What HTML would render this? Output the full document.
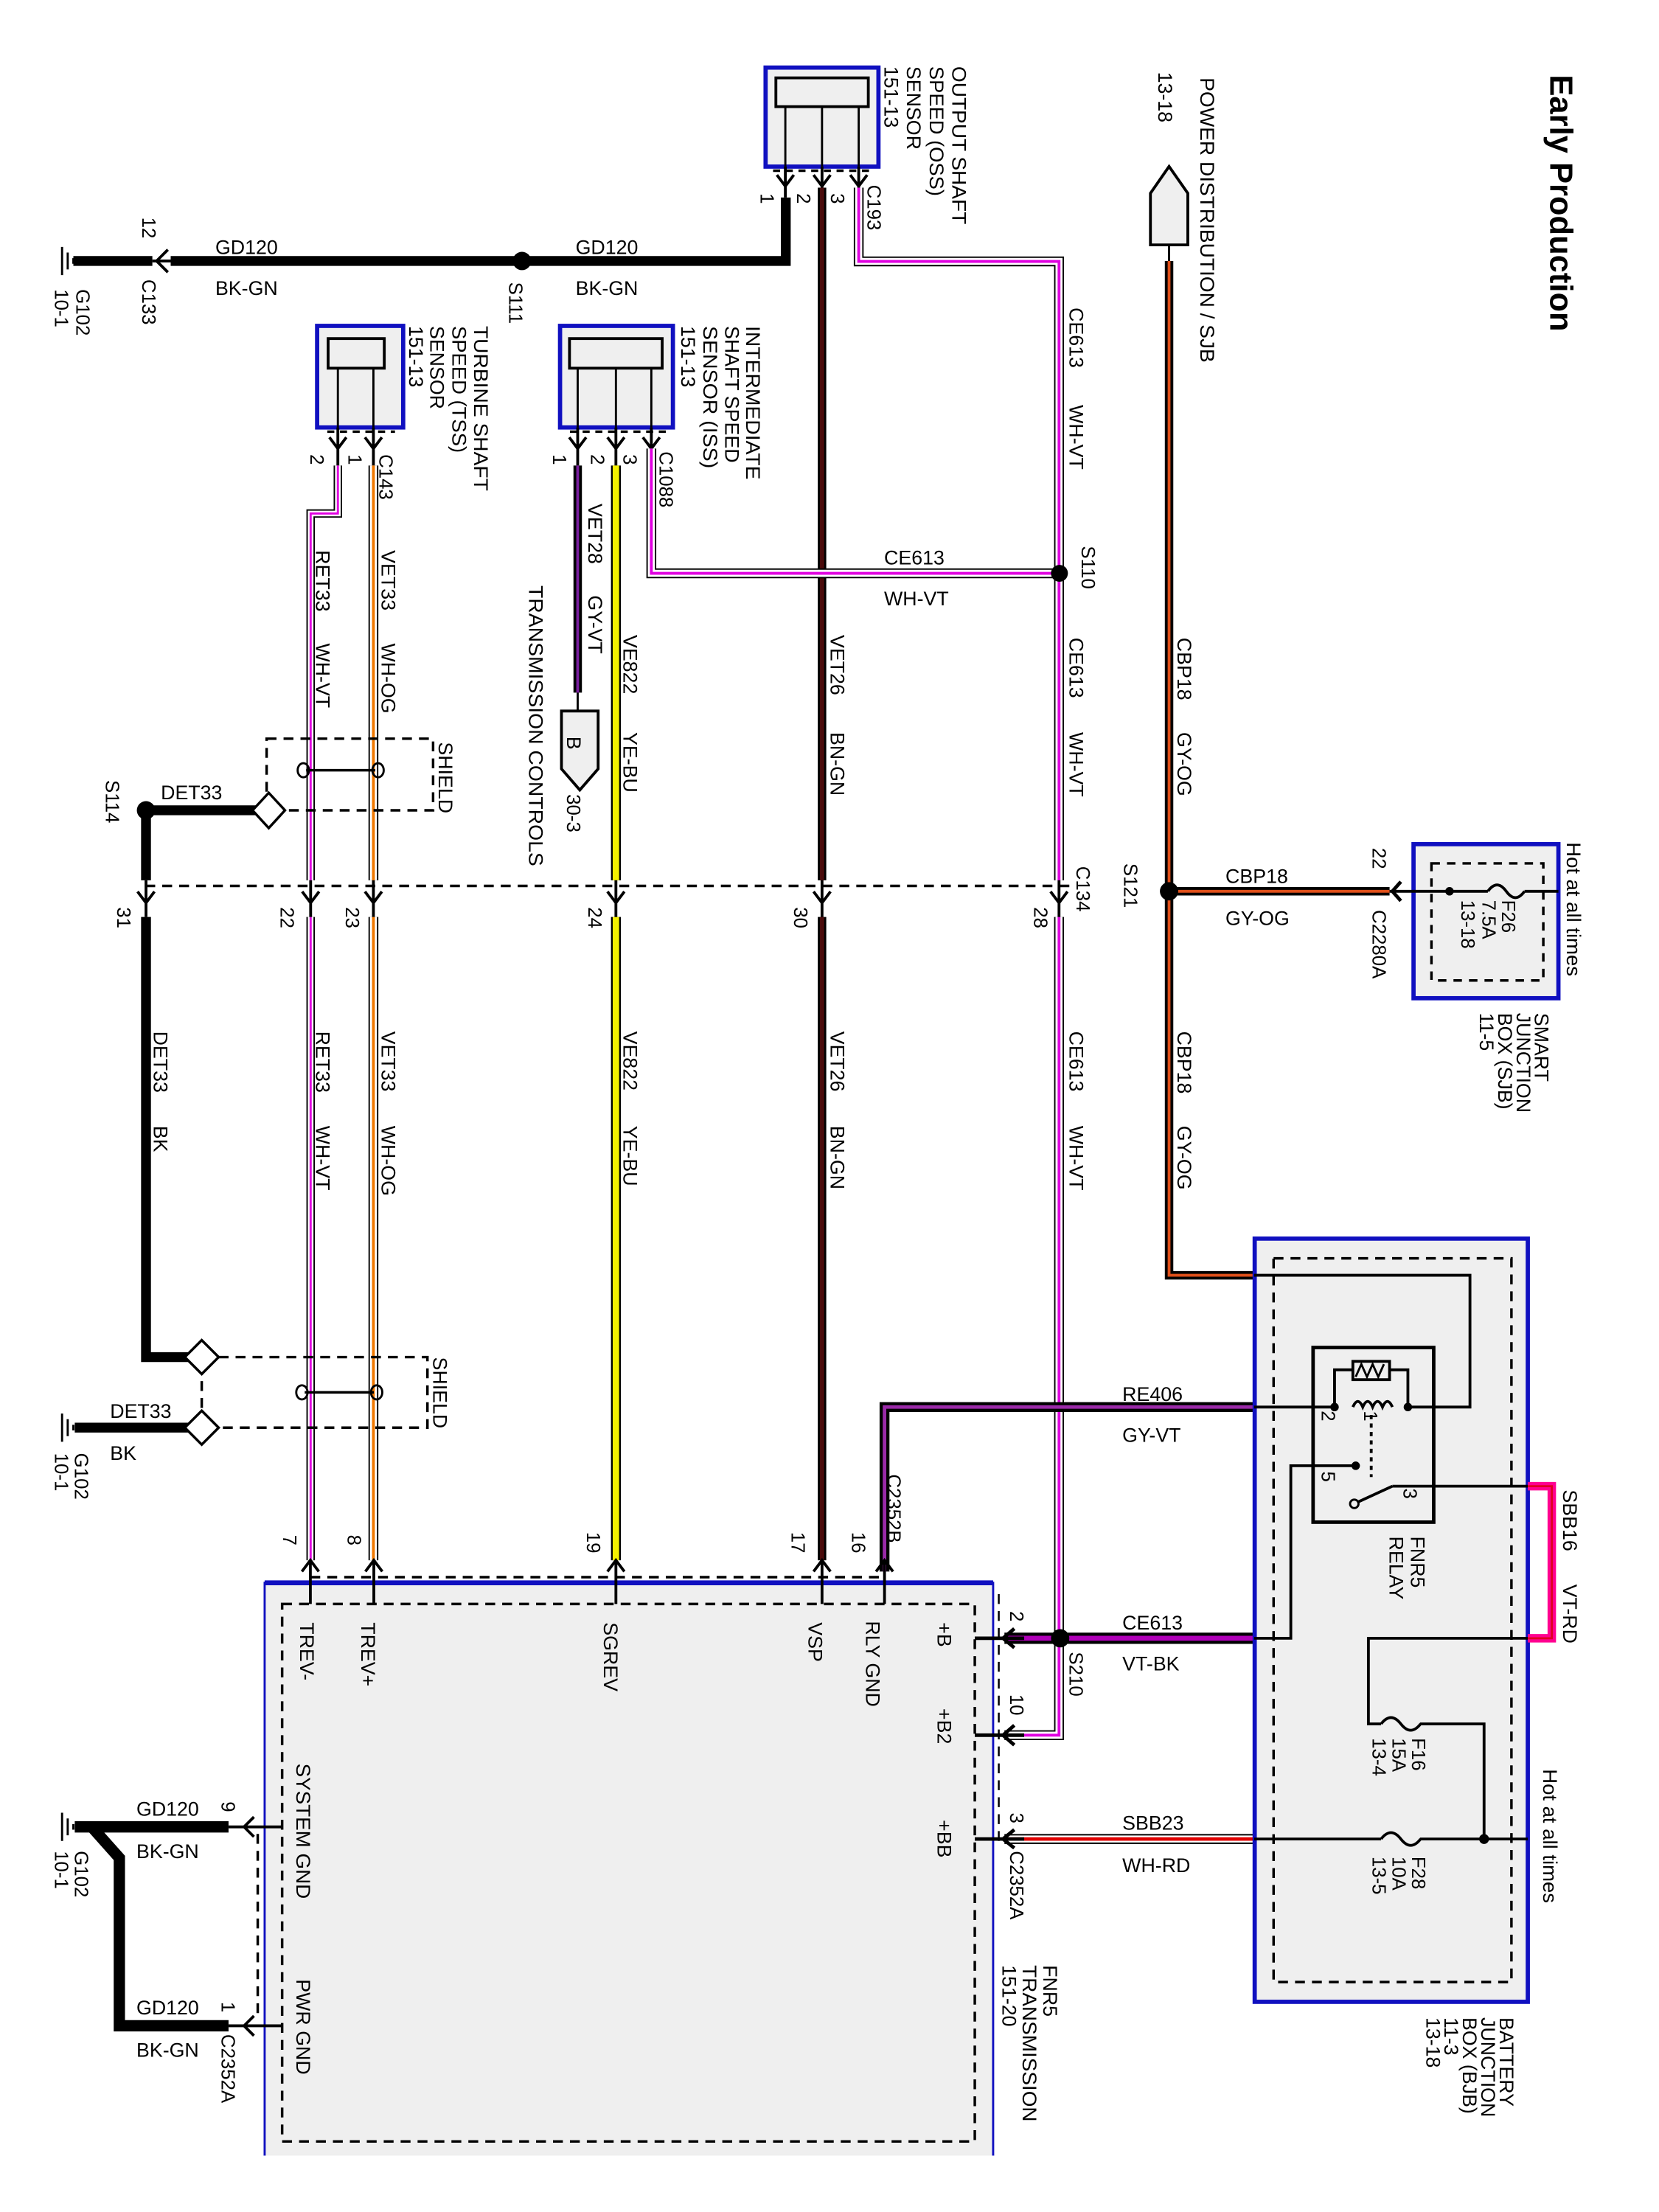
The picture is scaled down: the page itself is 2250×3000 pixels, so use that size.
<!DOCTYPE html>
<html><head><meta charset="utf-8">
<style>
html,body{margin:0;padding:0;background:#fff}
svg{display:block}
.t{font-family:"Liberation Sans",Arial,sans-serif;font-size:14px;fill:#000}
.s{font-family:"Liberation Sans",Arial,sans-serif;font-size:13.5px;fill:#000}
.n{fill:none;stroke:#000;stroke-width:2}
.d{fill:none;stroke:#000;stroke-width:1.8;stroke-dasharray:7 5}
</style></head>
<body>
<svg width="2250" height="3000" viewBox="0 0 1176 1568" preserveAspectRatio="none" xmlns="http://www.w3.org/2000/svg">
<rect x="0" y="0" width="1176" height="1568" fill="#fff"/>

<!-- Title -->
<text class="t" style="font-size:23px;font-weight:bold" transform="translate(1099,53) rotate(90)" textLength="182" lengthAdjust="spacingAndGlyphs">Early Production</text>

<!-- ===== OSS sensor ===== -->
<rect x="542.7" y="47.9" width="80" height="70.2" fill="#efefef" stroke="#1010c0" stroke-width="3"/>
<rect x="550" y="55.2" width="65.5" height="20.4" fill="#efefef" stroke="#000" stroke-width="2"/>
<path class="n" d="M556.7 75.6V118M582.7 75.6V118M608.7 75.6V118" style="stroke-width:1.5"/>
<path class="d" d="M548 121H620" style="stroke-dasharray:5 4"/>
<g class="n">
<path d="M556.7 118V140M550.7 124L556.7 132L562.7 124"/>
<path d="M582.7 118V140M576.7 124L582.7 132L588.7 124"/>
<path d="M608.7 118V140M602.7 124L608.7 132L614.7 124"/>
</g>
<text class="s" transform="translate(539,137) rotate(90)">1</text>
<text class="s" transform="translate(565,137) rotate(90)">2</text>
<text class="s" transform="translate(589,137) rotate(90)">3</text>
<text class="s" transform="translate(615,131) rotate(90)">C193</text>
<text class="t" transform="translate(675,47) rotate(90)" textLength="112" lengthAdjust="spacingAndGlyphs">OUTPUT SHAFT</text>
<text class="t" transform="translate(659,47) rotate(90)" textLength="92" lengthAdjust="spacingAndGlyphs">SPEED (OSS)</text>
<text class="t" transform="translate(643,47) rotate(90)">SENSOR</text>
<text class="t" transform="translate(627,47) rotate(90)">151-13</text>

<!-- ===== TSS sensor ===== -->
<rect x="224.8" y="231" width="61" height="72" fill="#efefef" stroke="#1010c0" stroke-width="3"/>
<rect x="232.6" y="240" width="39.8" height="21" fill="#efefef" stroke="#000" stroke-width="2"/>
<path class="n" d="M239.5 261V303M264.7 261V303" style="stroke-width:1.5"/>
<path class="d" d="M232 306H280" style="stroke-dasharray:5 4"/>
<g class="n">
<path d="M239.5 303V330M233.5 310L239.5 318L245.5 310"/>
<path d="M264.7 303V330M258.7 310L264.7 318L270.7 310"/>
</g>
<text class="s" transform="translate(220,322) rotate(90)">2</text>
<text class="s" transform="translate(247,322) rotate(90)">1</text>
<text class="s" transform="translate(269,322) rotate(90)">C143</text>
<text class="t" transform="translate(336,231) rotate(90)" textLength="117" lengthAdjust="spacingAndGlyphs">TURBINE SHAFT</text>
<text class="t" transform="translate(320.7,231) rotate(90)" textLength="90" lengthAdjust="spacingAndGlyphs">SPEED (TSS)</text>
<text class="t" transform="translate(305,231) rotate(90)">SENSOR</text>
<text class="t" transform="translate(290,231) rotate(90)">151-13</text>

<!-- ===== ISS sensor ===== -->
<rect x="397" y="231" width="80" height="72" fill="#efefef" stroke="#1010c0" stroke-width="3"/>
<rect x="403.7" y="240" width="65.7" height="21" fill="#efefef" stroke="#000" stroke-width="2"/>
<path class="n" d="M409.5 261V303M436.6 261V303M461.7 261V303" style="stroke-width:1.5"/>
<path class="d" d="M404 306H472" style="stroke-dasharray:5 4"/>
<g class="n">
<path d="M409.5 303V330M403.5 310L409.5 318L415.5 310"/>
<path d="M436.6 303V330M430.6 310L436.6 318L442.6 310"/>
<path d="M461.7 303V330M455.7 310L461.7 318L467.7 310"/>
</g>
<text class="s" transform="translate(392,322) rotate(90)">1</text>
<text class="s" transform="translate(419,322) rotate(90)">2</text>
<text class="s" transform="translate(442,322) rotate(90)">3</text>
<text class="s" transform="translate(467.5,320) rotate(90)">C1088</text>
<text class="t" transform="translate(529,231) rotate(90)" textLength="109" lengthAdjust="spacingAndGlyphs">INTERMEDIATE</text>
<text class="t" transform="translate(514,231) rotate(90)" textLength="97" lengthAdjust="spacingAndGlyphs">SHAFT SPEED</text>
<text class="t" transform="translate(498.5,231) rotate(90)" textLength="101" lengthAdjust="spacingAndGlyphs">SENSOR (ISS)</text>
<text class="t" transform="translate(483,231) rotate(90)">151-13</text>

<!-- ===== Wires ===== -->
<!-- GD120 top -->
<path d="M52 185H108M121 185H557V140" fill="none" stroke="#000" stroke-width="7"/>
<path class="n" d="M108 185H121M119 177L111 185L119 193"/>
<path class="n" d="M44 175V195M48 179V191M52 183V187" style="stroke-width:1.5"/>
<circle cx="370" cy="185" r="6.5" fill="#000"/>

<!-- VET26 -->
<path d="M582.7 133V624M582.7 650V1106" fill="none" stroke="#000" stroke-width="6"/>
<path d="M582.7 133V624M582.7 650V1106" fill="none" stroke="#4a0b0b" stroke-width="3"/>

<!-- CE613 WH-VT -->
<g fill="none">
<path d="M608.7 133V185.3H750.7V624M750.7 650V1230H712M750.7 406.4H461.7V318" stroke="#000" stroke-width="7"/>
<path d="M608.7 133V185.3H750.7V624M750.7 650V1230H712M750.7 406.4H461.7V318" stroke="#fff" stroke-width="5"/>
<path d="M608.7 133V185.3H750.7V624M750.7 650V1230H712M750.7 406.4H461.7V318" stroke="#e000e0" stroke-width="2"/>
</g>
<circle cx="751" cy="406.4" r="6" fill="#000"/>

<!-- CE613 VT-BK -->
<path d="M712 1161.3H889" fill="none" stroke="#000" stroke-width="8"/>
<path d="M712 1161.3H889" fill="none" stroke="#b000b8" stroke-width="3.5"/>
<circle cx="751.5" cy="1161.3" r="6.5" fill="#000"/>

<!-- RE406 GY-VT -->
<path d="M627 1114V997.4H889" fill="none" stroke="#000" stroke-width="7"/>
<path d="M627 1114V997.4H889" fill="none" stroke="#9a2aa8" stroke-width="2.5"/>

<!-- SBB23 WH-RD -->
<path d="M712 1303.6H889" fill="none" stroke="#000" stroke-width="7"/>
<path d="M712 1303.6H889" fill="none" stroke="#fff" stroke-width="5"/>
<path d="M712 1303.6H889" fill="none" stroke="#e00000" stroke-width="2.5"/>

<!-- CBP18 GY-OG -->
<path class="n" d="M828.7 173.6V186" style="stroke-width:1.5"/>
<path d="M828.7 185V904H889M828.7 631.8H985" fill="none" stroke="#000" stroke-width="6"/>
<path d="M828.7 185V904H889M828.7 631.8H985" fill="none" stroke="#e0501a" stroke-width="2"/>
<circle cx="828.7" cy="631.8" r="6.5" fill="#000"/>

<!-- VET28 GY-VT -->
<path d="M409.5 330V491" fill="none" stroke="#000" stroke-width="6"/>
<path d="M409.5 330V491" fill="none" stroke="#7a1fa0" stroke-width="2"/>
<path class="n" d="M409.5 491V504" style="stroke-width:1.5"/>
<polygon points="398,504 424,504 424,545 411,560 398,545" fill="#efefef" stroke="#000" stroke-width="2"/>

<!-- VE822 YE-BU -->
<path d="M436.6 330V624M436.6 650V1106" fill="none" stroke="#000" stroke-width="7"/>
<path d="M436.6 330V624M436.6 650V1106" fill="none" stroke="#f4f000" stroke-width="4.5"/>

<!-- RET33 WH-VT -->
<path d="M239.5 330V364H220.2V624M220.2 650V1106" fill="none" stroke="#000" stroke-width="6"/>
<path d="M239.5 330V364H220.2V624M220.2 650V1106" fill="none" stroke="#fff" stroke-width="4"/>
<path d="M239.5 330V364H220.2V624M220.2 650V1106" fill="none" stroke="#e000e0" stroke-width="1.5"/>

<!-- VET33 WH-OG -->
<path d="M264.7 330V624M264.7 650V1106" fill="none" stroke="#000" stroke-width="7"/>
<path d="M264.7 330V624M264.7 650V1106" fill="none" stroke="#fff" stroke-width="5"/>
<path d="M264.7 330V624M264.7 650V1106" fill="none" stroke="#f07800" stroke-width="2"/>

<!-- DET33 -->
<path d="M190 574.4H103.5V624M103.5 650V962H143" fill="none" stroke="#000" stroke-width="7"/>
<circle cx="103.5" cy="574.4" r="6.5" fill="#000"/>
<path d="M53 1012H143" fill="none" stroke="#000" stroke-width="7"/>
<path class="n" d="M44 1002V1022M48 1006V1018M52 1010V1014" style="stroke-width:1.5"/>

<!-- Shield 1 -->
<rect x="189" y="523.6" width="118" height="50.8" class="d"/>
<polygon points="190.5,562 202,574.4 190.5,587 179,574.4" fill="#fff" stroke="#000" stroke-width="1.8"/>
<ellipse cx="215" cy="546" rx="4" ry="5" fill="none" stroke="#000" stroke-width="1.5"/>
<ellipse cx="268" cy="546" rx="4" ry="5" fill="none" stroke="#000" stroke-width="1.5"/>
<path d="M217 546L266 546" stroke="#000" stroke-width="1.8"/>
<text class="t" transform="translate(311,526) rotate(90)">SHIELD</text>

<!-- Shield 2 -->
<rect x="143" y="962" width="160" height="50" class="d"/>
<polygon points="143,950 155,962 143,974 131,962" fill="#fff" stroke="#000" stroke-width="1.8"/>
<polygon points="143,1000 155,1012 143,1024 131,1012" fill="#fff" stroke="#000" stroke-width="1.8"/>
<ellipse cx="214" cy="987" rx="4" ry="5" fill="none" stroke="#000" stroke-width="1.5"/>
<ellipse cx="267" cy="987" rx="4" ry="5" fill="none" stroke="#000" stroke-width="1.5"/>
<path d="M216 987L265 987" stroke="#000" stroke-width="1.8"/>
<text class="t" transform="translate(307,962) rotate(90)">SHIELD</text>

<!-- C134 inline connector -->
<path class="d" d="M103 628H760"/>
<g class="n">
<path d="M103.5 624V650M97.5 632L103.5 640L109.5 632"/>
<path d="M220.2 624V650M214.2 632L220.2 640L226.2 632"/>
<path d="M264.7 624V650M258.7 632L264.7 640L270.7 632"/>
<path d="M436.6 624V650M430.6 632L436.6 640L442.6 632"/>
<path d="M582.7 624V650M576.7 632L582.7 640L588.7 632"/>
<path d="M750.7 624V650M744.7 632L750.7 640L756.7 632"/>
</g>
<text class="s" transform="translate(83,643) rotate(90)">31</text>
<text class="s" transform="translate(199,643) rotate(90)">22</text>
<text class="s" transform="translate(245,643) rotate(90)">23</text>
<text class="s" transform="translate(417,643) rotate(90)">24</text>
<text class="s" transform="translate(563,643) rotate(90)">30</text>
<text class="s" transform="translate(733,643) rotate(90)">28</text>
<text class="s" transform="translate(763,614) rotate(90)">C134</text>

<!-- Power distribution -->
<polygon points="815.5,137 828.7,118 842,137 842,173.6 815.5,173.6" fill="#efefef" stroke="#000" stroke-width="2"/>
<text class="t" transform="translate(851,55) rotate(90)" textLength="202" lengthAdjust="spacingAndGlyphs">POWER DISTRIBUTION / SJB</text>
<text class="t" transform="translate(821,51) rotate(90)">13-18</text>

<!-- SJB -->
<rect x="1002" y="598.4" width="102.7" height="109.2" fill="#efefef" stroke="#1010c0" stroke-width="3"/>
<rect x="1014.7" y="612" width="79.3" height="83" class="d" style="stroke-dasharray:6 5"/>
<path class="n" d="M985 631.8H1054.7M1080.7 631.8H1104.7"/>
<path class="n" d="M1054.7 631.8q6.5 -9 13 0q6.5 9 13 0"/>
<circle cx="1027.5" cy="631.8" r="3" fill="#000"/>
<path class="n" d="M993 625L987 631.8L993 638.6" style="stroke-width:2.5"/>
<text class="s" transform="translate(1064.7,638) rotate(90)">F26</text>
<text class="s" transform="translate(1050.7,638) rotate(90)">7.5A</text>
<text class="s" transform="translate(1036,638) rotate(90)">13-18</text>
<text class="t" transform="translate(1110.7,597) rotate(90)" textLength="95" lengthAdjust="spacingAndGlyphs">Hot at all times</text>
<text class="s" transform="translate(973,601) rotate(90)">22</text>
<text class="s" transform="translate(973,645) rotate(90)">C2280A</text>
<text class="t" transform="translate(1088,718) rotate(90)">SMART</text>
<text class="t" transform="translate(1075,718) rotate(90)">JUNCTION</text>
<text class="t" transform="translate(1062,718) rotate(90)">BOX (SJB)</text>
<text class="t" transform="translate(1049,718) rotate(90)">11-5</text>

<!-- ===== BJB ===== -->
<rect x="889.4" y="878" width="193.6" height="541" fill="#efefef" stroke="#1010c0" stroke-width="3"/>
<rect x="902.8" y="892" width="168.6" height="513" class="d"/>
<rect x="930.8" y="955.2" width="85.5" height="123.8" fill="none" stroke="#000" stroke-width="2.5"/>
<rect x="959" y="965" width="26" height="13" fill="none" stroke="#000" stroke-width="2"/>
<path class="n" d="M961 976L965 967L969 976L973 967L977 976L981 967" style="stroke-width:1.5"/>
<path class="n" d="M946 997.4V971H959M985 971H998V997.4"/>
<path class="n" d="M959 997.4q3.5 -8 7 0q3.5 -8 7 0q3.5 -8 7 0q3.5 -8 7 0"/>
<path class="n" d="M972 1003V1047" style="stroke-dasharray:3 3"/>
<circle cx="946" cy="997.4" r="3" fill="#000"/>
<circle cx="998" cy="997.4" r="3" fill="#000"/>
<circle cx="961" cy="1039" r="3" fill="#000"/>
<circle cx="960" cy="1066" r="3" fill="none" stroke="#000" stroke-width="1.5"/>
<path class="n" d="M889 904H1042V997.4H998"/>
<path class="n" d="M889 997.4H946"/>
<path class="n" d="M889 1161.3H915V1039H961"/>
<path class="n" d="M962 1065L987 1053.5M987 1053.5H1083"/>
<path class="n" d="M1083 1161.3H970V1222H979M1006.5 1222H1052V1303.6"/>
<path class="n" d="M979 1222q7 -9 14 0q7 9 14 0"/>
<path class="n" d="M889 1303.6H979M1006.5 1303.6H1083"/>
<path class="n" d="M979 1303.6q7 -9 14 0q7 9 14 0"/>
<circle cx="1052" cy="1303.6" r="3.5" fill="#000"/>
<path d="M1083 1053.5H1100V1161.3H1083" fill="none" stroke="#ff0090" stroke-width="6"/>
<path d="M1083 1053.5H1100V1161.3H1083" fill="none" stroke="#e00020" stroke-width="1.5"/>
<text class="s" transform="translate(967,1000) rotate(90)">1</text>
<text class="s" transform="translate(937,1000) rotate(90)">2</text>
<text class="s" transform="translate(937,1043) rotate(90)">5</text>
<text class="s" transform="translate(995,1055) rotate(90)">3</text>
<text class="t" transform="translate(1000,1089) rotate(90)">FNR5</text>
<text class="t" transform="translate(985,1089) rotate(90)">RELAY</text>
<text class="s" transform="translate(1001,1232) rotate(90)">F16</text>
<text class="s" transform="translate(987,1232) rotate(90)">15A</text>
<text class="s" transform="translate(973,1232) rotate(90)">13-4</text>
<text class="s" transform="translate(1001,1316) rotate(90)">F28</text>
<text class="s" transform="translate(987,1316) rotate(90)">10A</text>
<text class="s" transform="translate(973,1316) rotate(90)">13-5</text>
<text class="t" transform="translate(1094,1254) rotate(90)" textLength="95" lengthAdjust="spacingAndGlyphs">Hot at all times</text>
<text class="t" transform="translate(1108,1056) rotate(90)">SBB16</text>
<text class="t" transform="translate(1108,1123) rotate(90)">VT-RD</text>
<text class="t" transform="translate(1063,1430) rotate(90)">BATTERY</text>
<text class="t" transform="translate(1050,1430) rotate(90)">JUNCTION</text>
<text class="t" transform="translate(1037,1430) rotate(90)">BOX (BJB)</text>
<text class="t" transform="translate(1024,1430) rotate(90)">11-3</text>
<text class="t" transform="translate(1011,1430) rotate(90)">13-18</text>

<!-- ===== FNR5 Transmission module ===== -->
<rect x="187.6" y="1122" width="516.4" height="406" fill="#efefef"/>
<path d="M187.6 1528V1122H704V1528" fill="none" stroke="#1010c0" stroke-width="1.5"/>
<path d="M187.6 1122H704" stroke="#1010c0" stroke-width="3.5"/>
<rect x="200" y="1137" width="491" height="381" class="d"/>
<path class="d" d="M220 1118H627"/>
<path class="d" d="M708 1130V1310" style="stroke-width:1.3"/>
<g class="n">
<path d="M220 1106V1137M214 1114L220 1106L226 1114"/>
<path d="M265 1106V1137M259 1114L265 1106L271 1114"/>
<path d="M436.6 1106V1137M430.6 1114L436.6 1106L442.6 1114"/>
<path d="M582.7 1106V1137M576.7 1114L582.7 1106L588.7 1114"/>
<path d="M627 1106V1137M621 1114L627 1106L633 1114"/>
</g>
<g class="n" style="stroke-width:2.5">
<path d="M691 1161.3H726M719 1154.5L711 1161.3L719 1168"/>
<path d="M691 1230H726M719 1223L711 1230L719 1237"/>
<path d="M691 1303.6H726M719 1297L711 1303.6L719 1310"/>
</g>
<text class="s" transform="translate(200.6,1088) rotate(90)">7</text>
<text class="s" transform="translate(246.5,1088) rotate(90)">8</text>
<text class="s" transform="translate(416,1086) rotate(90)">19</text>
<text class="s" transform="translate(561,1086) rotate(90)">17</text>
<text class="s" transform="translate(604,1086) rotate(90)">16</text>
<text class="s" transform="translate(629,1045) rotate(90)">C2352B</text>
<text class="s" transform="translate(716,1142) rotate(90)">2</text>
<text class="s" transform="translate(716,1201) rotate(90)">10</text>
<text class="s" transform="translate(716,1285) rotate(90)">3</text>
<text class="s" transform="translate(716,1312) rotate(90)">C2352A</text>
<text class="s" transform="translate(758,1171) rotate(90)">S210</text>
<text class="t" transform="translate(212.7,1150) rotate(90)">TREV-</text>
<text class="t" transform="translate(256,1150) rotate(90)">TREV+</text>
<text class="t" transform="translate(428,1150) rotate(90)">SGREV</text>
<text class="t" transform="translate(573,1150) rotate(90)">VSP</text>
<text class="t" transform="translate(614,1149) rotate(90)">RLY GND</text>
<text class="t" transform="translate(664.7,1150) rotate(90)">+B</text>
<text class="t" transform="translate(664.7,1211) rotate(90)">+B2</text>
<text class="t" transform="translate(664.7,1290) rotate(90)">+BB</text>
<text class="t" transform="translate(210,1250) rotate(90)" textLength="96" lengthAdjust="spacingAndGlyphs">SYSTEM GND</text>
<text class="t" transform="translate(210,1403) rotate(90)">PWR GND</text>
<text class="t" transform="translate(739.6,1393) rotate(90)">FNR5</text>
<text class="t" transform="translate(725,1393) rotate(90)" textLength="111" lengthAdjust="spacingAndGlyphs">TRANSMISSION</text>
<text class="t" transform="translate(710.6,1393) rotate(90)">151-20</text>

<!-- bottom-left grounds -->
<path d="M53 1295H162M65 1295L84.6 1317V1436H162" fill="none" stroke="#000" stroke-width="8"/>
<path class="n" d="M44 1285V1305M48 1289V1301M52 1293V1297" style="stroke-width:1.5"/>
<g class="n">
<path d="M162 1295H200.6M180 1288L173 1295L180 1302"/>
<path d="M162 1436H200.6M180 1429L173 1436L180 1443"/>
</g>
<path class="d" d="M182.7 1300V1432"/>
<text class="s" transform="translate(157,1277) rotate(90)">9</text>
<text class="s" transform="translate(157,1419) rotate(90)">1</text>
<text class="s" transform="translate(157,1442) rotate(90)">C2352A</text>
<text class="s" transform="translate(53,1312) rotate(90)">G102</text>
<text class="s" transform="translate(39,1312) rotate(90)">10-1</text>
<text class="t" x="96.7" y="1287">GD120</text>
<text class="t" x="96.7" y="1317">BK-GN</text>
<text class="t" x="96.7" y="1428">GD120</text>
<text class="t" x="96.7" y="1458">BK-GN</text>

<!-- Top-left labels -->
<text class="t" x="152.6" y="180">GD120</text>
<text class="t" x="152.6" y="209">BK-GN</text>
<text class="t" x="408" y="180">GD120</text>
<text class="t" x="408" y="209">BK-GN</text>
<text class="s" transform="translate(101,154) rotate(90)">12</text>
<text class="s" transform="translate(101,198) rotate(90)">C133</text>
<text class="s" transform="translate(54,205) rotate(90)">G102</text>
<text class="s" transform="translate(39,205) rotate(90)">10-1</text>
<text class="s" transform="translate(361,200) rotate(90)">S111</text>

<!-- other wire labels -->
<text class="t" x="626.7" y="400">CE613</text>
<text class="t" x="626.7" y="429">WH-VT</text>
<text class="s" transform="translate(766.7,387) rotate(90)">S110</text>
<text class="t" transform="translate(758,218) rotate(90)">CE613</text>
<text class="t" transform="translate(758,287) rotate(90)">WH-VT</text>
<text class="t" transform="translate(758,452) rotate(90)">CE613</text>
<text class="t" transform="translate(758,519) rotate(90)">WH-VT</text>
<text class="t" transform="translate(758,731) rotate(90)">CE613</text>
<text class="t" transform="translate(758,798) rotate(90)">WH-VT</text>
<text class="t" transform="translate(588.7,450) rotate(90)">VET26</text>
<text class="t" transform="translate(588.7,519) rotate(90)">BN-GN</text>
<text class="t" transform="translate(588.7,731) rotate(90)">VET26</text>
<text class="t" transform="translate(588.7,798) rotate(90)">BN-GN</text>
<text class="t" transform="translate(834.7,452) rotate(90)">CBP18</text>
<text class="t" transform="translate(834.7,519) rotate(90)">GY-OG</text>
<text class="t" transform="translate(834.7,731) rotate(90)">CBP18</text>
<text class="t" transform="translate(834.7,798) rotate(90)">GY-OG</text>
<text class="t" x="868.7" y="626">CBP18</text>
<text class="t" x="868.7" y="655.6">GY-OG</text>
<text class="s" transform="translate(796.7,612) rotate(90)">S121</text>
<text class="t" transform="translate(417,357) rotate(90)">VET28</text>
<text class="t" transform="translate(417,422) rotate(90)">GY-VT</text>
<text class="t" transform="translate(402,522) rotate(90)">B</text>
<text class="s" transform="translate(402,563) rotate(90)">30-3</text>
<text class="t" transform="translate(375,415) rotate(90)" textLength="199" lengthAdjust="spacingAndGlyphs">TRANSMISSION CONTROLS</text>
<text class="t" transform="translate(442,450) rotate(90)">VE822</text>
<text class="t" transform="translate(442,519) rotate(90)">YE-BU</text>
<text class="t" transform="translate(442,731) rotate(90)">VE822</text>
<text class="t" transform="translate(442,798) rotate(90)">YE-BU</text>
<text class="t" transform="translate(224,390) rotate(90)">RET33</text>
<text class="t" transform="translate(224,456) rotate(90)">WH-VT</text>
<text class="t" transform="translate(224,731) rotate(90)">RET33</text>
<text class="t" transform="translate(224,798) rotate(90)">WH-VT</text>
<text class="t" transform="translate(270.5,390) rotate(90)">VET33</text>
<text class="t" transform="translate(270.5,456) rotate(90)">WH-OG</text>
<text class="t" transform="translate(270.5,731) rotate(90)">VET33</text>
<text class="t" transform="translate(270.5,798) rotate(90)">WH-OG</text>
<text class="t" transform="translate(109,731) rotate(90)">DET33</text>
<text class="t" transform="translate(109,798) rotate(90)">BK</text>
<text class="t" x="114" y="566.5">DET33</text>
<text class="s" transform="translate(75,553) rotate(90)">S114</text>
<text class="t" x="78" y="1005">DET33</text>
<text class="t" x="78" y="1035">BK</text>
<text class="s" transform="translate(53,1030) rotate(90)">G102</text>
<text class="s" transform="translate(39,1030) rotate(90)">10-1</text>
<text class="t" x="795.6" y="993">RE406</text>
<text class="t" x="795.6" y="1022">GY-VT</text>
<text class="t" x="795.6" y="1155">CE613</text>
<text class="t" x="795.6" y="1184">VT-BK</text>
<text class="t" x="795.6" y="1297">SBB23</text>
<text class="t" x="795.6" y="1327">WH-RD</text>
</svg>
</body></html>
